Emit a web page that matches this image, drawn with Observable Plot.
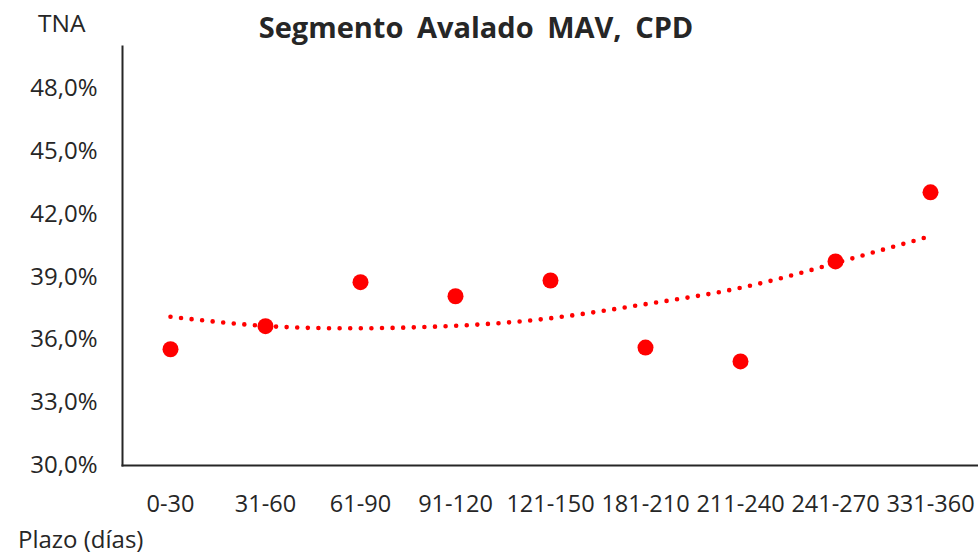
<!DOCTYPE html>
<html>
<head>
<meta charset="utf-8">
<script src="https://cdn.jsdelivr.net/npm/d3@7"></script>
<script src="https://cdn.jsdelivr.net/npm/@observablehq/plot@0.6"></script>
<style>
  html, body { margin: 0; padding: 0; background: #fff; }
  #wrap { position: relative; width: 978px; height: 557px; font-family: "Open Sans", "Noto Sans", sans-serif; color: #262626; }
  .lbl { position: absolute; white-space: nowrap; line-height: 1; }
  #title { left: 0; width: 952px; top: 12px; text-align: center; font-size: 29px; font-weight: 700; word-spacing: 6px; }
  #ytitle { left: 38px; top: 11px; font-size: 24.5px; }
  #xtitle { left: 18px; top: 527px; font-size: 24px; }
</style>
</head>
<body>
<div id="wrap">
  <div id="chart"></div>
  <div class="lbl" id="title">Segmento Avalado MAV, CPD</div>
  <div class="lbl" id="ytitle">TNA</div>
  <div class="lbl" id="xtitle">Plazo (días)</div>
</div>
<script>
const categories = ["0-30", "31-60", "61-90", "91-120", "121-150", "181-210", "211-240", "241-270", "331-360"];
const rates = [35.55, 36.65, 38.75, 38.08, 38.83, 35.63, 34.97, 39.74, 43.04];
const trend = [37.10, 36.66, 36.55, 36.67, 37.03, 37.70, 38.48, 39.66, 40.95];
const yTicks = [30, 33, 36, 39, 42, 45, 48];

const points = categories.map((c, i) => ({cat: c, rate: rates[i]}));
const trendData = categories.map((c, i) => ({cat: c, rate: trend[i]}));
const fmt = d => d.toFixed(1).replace(".", ",") + "%";

const chart = Plot.plot({
  width: 978,
  height: 557,
  marginTop: 46,
  marginBottom: 92,
  marginLeft: 122,
  marginRight: 0,
  style: {fontFamily: "'Open Sans', 'Noto Sans', sans-serif", fontSize: "24px", color: "#262626", background: "#fff"},
  x: {type: "point", domain: categories, padding: 0.5, label: null},
  y: {domain: [30, 50], label: null},
  marks: [
    Plot.axisY({ticks: yTicks, tickFormat: fmt, tickSize: 0, tickPadding: 25, label: null, fontSize: 24}),
    Plot.axisX({tickSize: 0, tickPadding: 30, label: null, fontSize: 23.5}),
    Plot.frame({anchor: "left", stroke: "#262626", strokeWidth: 2}),
    Plot.frame({anchor: "bottom", stroke: "#262626", strokeWidth: 2}),
    Plot.line(trendData, {x: "cat", y: "rate", curve: "natural", stroke: "#ff0000", strokeWidth: 4.6, strokeDasharray: "0 10.6", strokeLinecap: "round"}),
    Plot.dot(points, {x: "cat", y: "rate", r: 8, fill: "#ff0000", stroke: "none"})
  ]
});
document.getElementById("chart").appendChild(chart);
</script>
</body>
</html>
